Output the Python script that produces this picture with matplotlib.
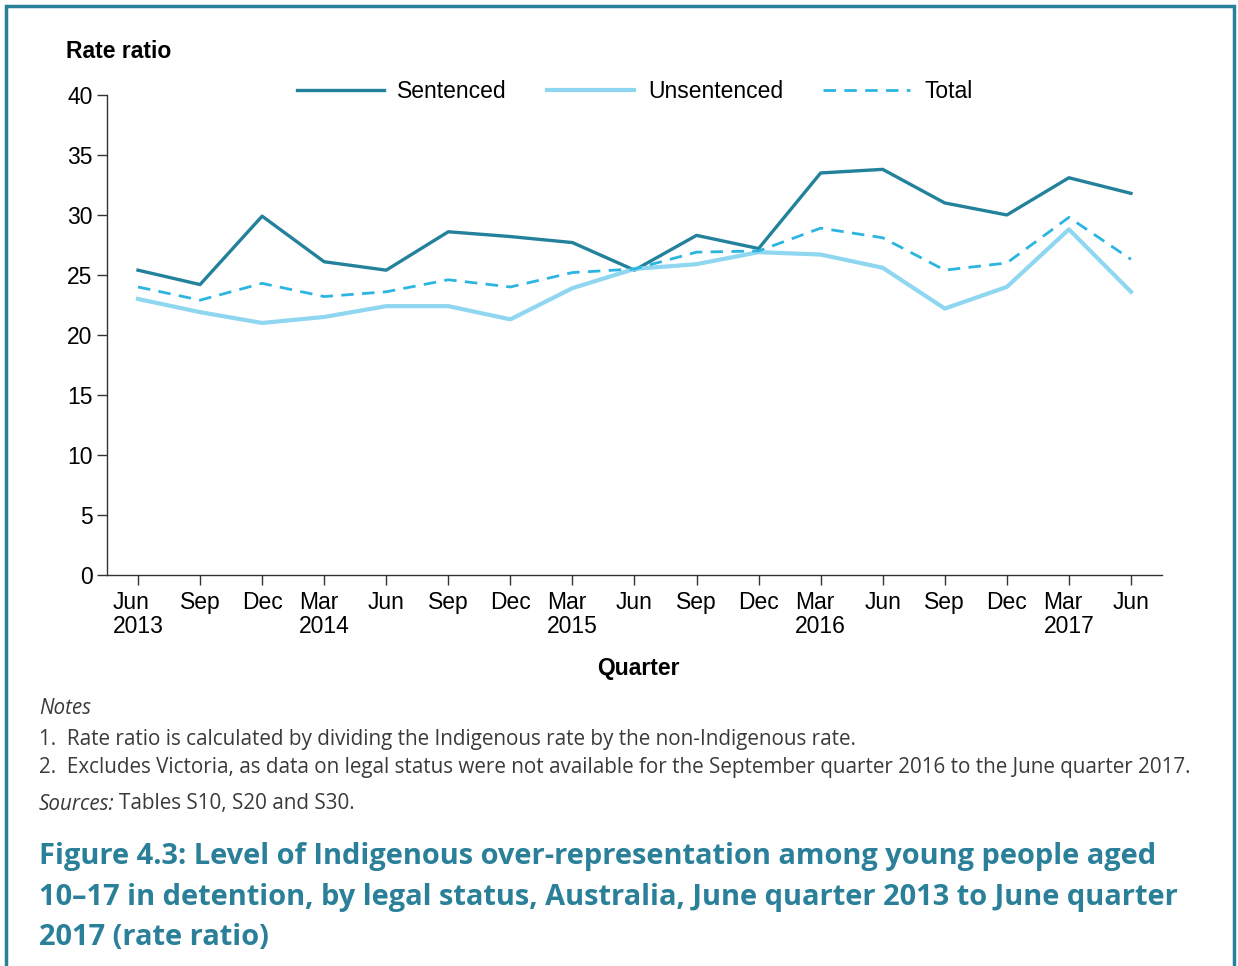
import matplotlib.pyplot as plt
from matplotlib.patches import Rectangle

quarters = ["Jun\n2013", "Sep", "Dec", "Mar\n2014", "Jun", "Sep", "Dec", "Mar\n2015", "Jun",
            "Sep", "Dec", "Mar\n2016", "Jun", "Sep", "Dec", "Mar\n2017", "Jun"]
sentenced = [25.4, 24.2, 29.9, 26.1, 25.4, 28.6, 28.2, 27.7, 25.4,
             28.3, 27.2, 33.5, 33.8, 31.0, 30.0, 33.1, 31.8]
unsentenced = [23.0, 21.9, 21.0, 21.5, 22.4, 22.4, 21.3, 23.9, 25.5,
               25.9, 26.9, 26.7, 25.6, 22.2, 24.0, 28.8, 23.6]
total = [24.0, 22.9, 24.3, 23.2, 23.6, 24.6, 24.0, 25.2, 25.5,
         26.9, 27.0, 28.9, 28.1, 25.4, 26.0, 29.8, 26.3]

teal = "#2a7f99"
note_color = "#3a3a3a"
plt.rcParams["font.family"] = ["Liberation Sans", "DejaVu Sans"]

fig = plt.figure(figsize=(12.38, 9.66), dpi=100)
ax = fig.add_axes([0.0864, 0.4048, 0.8522, 0.4969])

x = range(len(quarters))
ax.plot(x, sentenced, color="#23819b", lw=2.4, label="Sentenced")
ax.plot(x, unsentenced, color="#8fd6f0", lw=3.0, label="Unsentenced")
ax.plot(x, total, color="#2bb5e0", lw=2.0, ls=(0, (4.5, 3)), label="Total")

ax.set_xlim(-0.5, 16.5)
ax.set_ylim(0, 40)
ax.set_yticks(range(0, 41, 5))
ax.set_xticks(list(x))
ax.set_xticklabels(quarters, multialignment="left", linespacing=1.05)
ax.tick_params(labelsize=16.5, length=7, width=1, color="#333333")
ax.tick_params(axis="x", pad=4.5)
for s in ["top", "right"]:
    ax.spines[s].set_visible(False)
for s in ["left", "bottom"]:
    ax.spines[s].set_linewidth(1)
    ax.spines[s].set_color("#333333")

ax.legend(loc="upper center", bbox_to_anchor=(0.5, 1.075), ncol=3, frameon=False,
          fontsize=16.5, handlelength=3.8, handletextpad=0.6, columnspacing=1.75)

fig.text(66 / 1238, 1 - 52 / 966, "Rate ratio", fontsize=16.5, fontweight="bold", va="center")
fig.text(638 / 1238, 1 - 669 / 966, "Quarter", fontsize=16.5, fontweight="bold",
         ha="center", va="center")

note_font = "Open Sans"
fs_note = 14.85
fig.text(39 / 1238, 1 - 709 / 966, "Notes", fontsize=fs_note, style="italic",
         family=note_font, color=note_color, va="center")
fig.text(39 / 1238, 1 - 739 / 966,
         "1.  Rate ratio is calculated by dividing the Indigenous rate by the non-Indigenous rate.",
         fontsize=fs_note, family=note_font, color=note_color, va="center")
fig.text(39 / 1238, 1 - 768 / 966,
         "2.  Excludes Victoria, as data on legal status were not available for the September quarter 2016 to the June quarter 2017.",
         fontsize=fs_note, family=note_font, color=note_color, va="center")
src = fig.text(39 / 1238, 1 - 804 / 966, "Sources:", fontsize=fs_note, style="italic",
               family=note_font, color=note_color, va="center")
renderer = fig.canvas.get_renderer()
bb = src.get_window_extent(renderer=renderer)
fig.text((bb.x1 + 4) / 1238, 1 - 804 / 966, "Tables S10, S20 and S30.", fontsize=fs_note,
         family=note_font, color=note_color, va="center")

fig.text(39 / 1238, 1 - 897 / 966,
         "Figure 4.3: Level of Indigenous over-representation among young people aged\n"
         "10–17 in detention, by legal status, Australia, June quarter 2013 to June quarter\n"
         "2017 (rate ratio)",
         fontsize=20.9, fontweight="bold", family="Open Sans", color=teal,
         va="center", linespacing=1.52)

fig.patches.append(Rectangle((6 / 1238, -0.01), 1228 / 1238, 1 - 6 / 966 + 0.01,
                             transform=fig.transFigure, fill=False, lw=2.5,
                             edgecolor=teal))

fig.savefig("out.png", dpi=100)
